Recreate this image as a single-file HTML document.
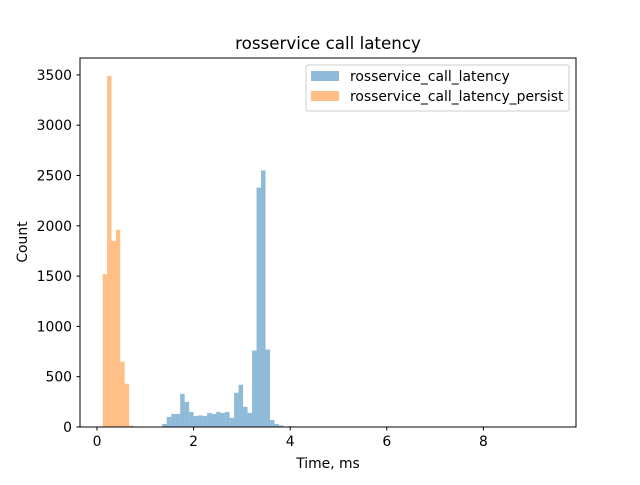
<!DOCTYPE html>
<html><head><meta charset="utf-8"><style>
body{margin:0;background:#fff}
svg text{font-family:"DejaVu Sans","Liberation Sans",sans-serif;fill:#000}
</style></head><body>
<svg id="c" width="640" height="480" xmlns="http://www.w3.org/2000/svg">
<rect width="640" height="480" fill="#fff"/>
<g id="bars"></g>
<rect x="80" y="58" width="496" height="369" fill="none" stroke="#000" stroke-width="1"/>
<g id="axes"></g>
<text x="328" y="49" font-size="16.7" text-anchor="middle">rosservice call latency</text>
<text x="328" y="468" font-size="13.9" text-anchor="middle">Time, ms</text>
<text x="27" y="242" font-size="13.9" text-anchor="middle" transform="rotate(-90 27 242)">Count</text>
<g>
<rect x="306" y="65" width="263" height="46" rx="2" fill="#fff" fill-opacity="0.8" stroke="#ccc"/>
<g>
<rect x="311" y="71" width="28" height="10" fill="#1f77b4" fill-opacity="0.5"/>
<text x="350" y="81" font-size="13.9">rosservice_call_latency</text></g>
<g>
<rect x="311" y="91" width="28" height="10" fill="#ff7f0e" fill-opacity="0.5"/>
<text x="350" y="101" font-size="13.9">rosservice_call_latency_persist</text></g>
</g>
</svg>
<script>
const blueStart = 1.35, blueWidth = 0.093;
const blueCounts = [30,100,130,130,330,250,150,110,115,110,140,130,150,140,150,90,340,420,200,140,760,2380,2550,770,70,30,15,0,8];
const orangeStart = 0.118, orangeWidth = 0.091;
const orangeCounts = [1520,3490,1850,1960,650,430,15,5];
const xTicks = [0,2,4,6,8];
const yTicks = [0,500,1000,1500,2000,2500,3000,3500];
const ns = "http://www.w3.org/2000/svg";
const xs = v => 97 + v * 48.3;
const ys = v => 427 - v * 0.1006;
const bars = document.getElementById('bars');
function drawHist(start, w, counts, color, name) {
  counts.forEach((c, i) => {
    if (c <= 0) return;
    const r = document.createElementNS(ns, 'rect');
    const x0 = xs(start + i * w), x1 = xs(start + (i + 1) * w);
    r.setAttribute('x', x0); r.setAttribute('width', x1 - x0);
    r.setAttribute('y', ys(c)); r.setAttribute('height', ys(0) - ys(c));
    r.setAttribute('fill', color); r.setAttribute('fill-opacity', '0.5');
    
    
    bars.appendChild(r);
  });
}
drawHist(blueStart, blueWidth, blueCounts, '#1f77b4', 'latency');
drawHist(orangeStart, orangeWidth, orangeCounts, '#ff7f0e', 'persist');
const ax = document.getElementById('axes');
xTicks.forEach(t => {
  const l = document.createElementNS(ns, 'line');
  l.setAttribute('x1', xs(t)); l.setAttribute('x2', xs(t));
  l.setAttribute('y1', 427); l.setAttribute('y2', 430.5); l.setAttribute('stroke', '#000');
  
  
  ax.appendChild(l);
  const tx = document.createElementNS(ns, 'text');
  tx.setAttribute('x', xs(t)); tx.setAttribute('y', 446); tx.setAttribute('font-size', '13.9');
  tx.setAttribute('text-anchor', 'middle'); tx.textContent = t;
  
  
  ax.appendChild(tx);
});
yTicks.forEach(t => {
  const l = document.createElementNS(ns, 'line');
  l.setAttribute('x1', 76.5); l.setAttribute('x2', 80);
  l.setAttribute('y1', ys(t)); l.setAttribute('y2', ys(t)); l.setAttribute('stroke', '#000');
  
  
  ax.appendChild(l);
  const tx = document.createElementNS(ns, 'text');
  tx.setAttribute('x', 72); tx.setAttribute('y', ys(t) + 5); tx.setAttribute('font-size', '13.9');
  tx.setAttribute('text-anchor', 'end'); tx.textContent = t;
  
  
  ax.appendChild(tx);
});
</script>
</body></html>
